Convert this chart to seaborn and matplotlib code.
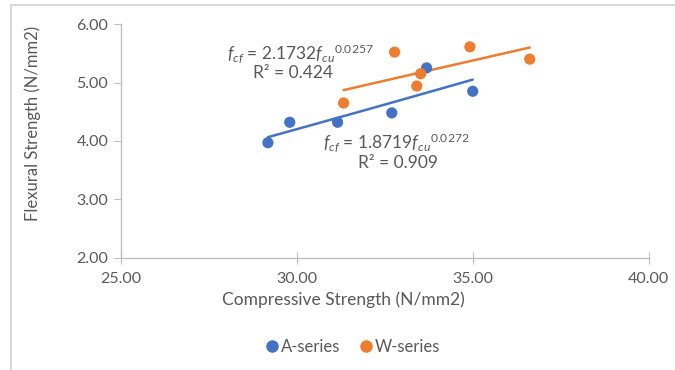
import numpy as np
import pandas as pd
import seaborn as sns
import matplotlib.pyplot as plt
from matplotlib.lines import Line2D

# data
a_fcu = [29.18, 29.80, 31.16, 32.70, 33.69, 35.00]
a_fcf = [3.97, 4.32, 4.32, 4.48, 5.25, 4.85]
w_fcu = [31.33, 32.78, 33.41, 33.52, 34.92, 36.62]
w_fcf = [4.65, 5.52, 4.94, 5.15, 5.61, 5.40]
series_names = ['A-series', 'W-series']
xticks = [25, 30, 35, 40]
yticks = [2, 3, 4, 5, 6]

blue = '#4472C4'
orange = '#ED7D31'
grey = '#595959'

df = pd.DataFrame({
    'fcu': a_fcu + w_fcu,
    'fcf': a_fcf + w_fcf,
    'series': [series_names[0]] * len(a_fcu) + [series_names[1]] * len(w_fcu),
})

sns.set_style('white')
plt.rcParams['font.family'] = ['Lato', 'DejaVu Sans']
plt.rcParams['mathtext.fontset'] = 'custom'
plt.rcParams['mathtext.rm'] = 'Lato'
plt.rcParams['mathtext.it'] = 'Lato:italic'

fig = plt.figure(figsize=(6.75, 3.7), dpi=100)
ax = fig.add_axes([0.179, 0.303, 0.782, 0.632])

palette = {series_names[0]: blue, series_names[1]: orange}

# power trendlines fitted from the points
for name, xs, ys in [(series_names[0], a_fcu, a_fcf), (series_names[1], w_fcu, w_fcf)]:
    b, ln_a = np.polyfit(np.log(xs), np.log(ys), 1)
    xx = np.linspace(min(xs), max(xs), 50)
    sns.lineplot(x=xx, y=np.exp(ln_a) * xx ** b, ax=ax, color=palette[name],
                 linewidth=1.8, legend=False)

sns.scatterplot(data=df, x='fcu', y='fcf', hue='series', palette=palette,
                s=65, edgecolor='none', ax=ax, legend=False, zorder=3)

ax.set_xlim(25, 40)
ax.set_ylim(2, 6)
ax.set_xticks(xticks)
ax.set_yticks(yticks)
ax.set_xticklabels([f'{v:.2f}' for v in xticks])
ax.set_yticklabels([f'{v:.2f}' for v in yticks])
ax.set_xlabel('')
ax.set_ylabel('')

for s in ['top', 'right']:
    ax.spines[s].set_visible(False)
for s in ['left', 'bottom']:
    ax.spines[s].set_color('#bfbfbf')
    ax.spines[s].set_linewidth(1.0)
ax.tick_params(axis='y', direction='out', length=5, color='#bfbfbf', labelsize=11.5,
               labelcolor=grey, pad=4, left=True)
ax.tick_params(axis='x', direction='inout', length=8, color='#bfbfbf', labelsize=11.5,
               labelcolor=grey, pad=6, bottom=True)

# trendline labels
ax.text(30.09, 5.50, r'$f_{cf}$ = 2.1732$f_{cu}{}^{\mathit{0.0257}}$', ha='center', va='center',
        fontsize=12.5, color=grey)
ax.text(29.9, 5.16, 'R² = 0.424', ha='center', va='center', fontsize=12.5, color=grey)
ax.text(32.84, 3.97, r'$f_{cf}$ = 1.8719$f_{cu}{}^{0.0272}$', ha='center', va='center',
        fontsize=12.5, color=grey)
ax.text(32.87, 3.62, 'R² = 0.909', ha='center', va='center', fontsize=12.5, color=grey)

fig.text(343 / 675, 1 - 300 / 370, 'Compressive Strength (N/mm2)', ha='center',
         va='center', fontsize=12.5, color=grey)
fig.text(33 / 675, 1 - 123 / 370, 'Flexural Strength (N/mm2)', ha='center',
         va='center', rotation=90, fontsize=12, color=grey)

handles = [Line2D([], [], marker='o', linestyle='', color=palette[n], markersize=8)
           for n in series_names]
fig.legend(handles, series_names, loc='center', bbox_to_anchor=(352 / 675, 1 - 347 / 370),
           ncol=2, frameon=False, fontsize=12, labelcolor=grey, handletextpad=0.05,
           columnspacing=1.0, handlelength=1.0)

# outer chart border (top and left visible)
fig.add_artist(Line2D([11 / 675, 1], [1 - 5 / 370, 1 - 5 / 370], color='#d9d9d9', lw=1.5))
fig.add_artist(Line2D([11 / 675, 11 / 675], [0, 1 - 5 / 370], color='#d9d9d9', lw=1.5))

fig.savefig('out.png', dpi=100, facecolor='white')
